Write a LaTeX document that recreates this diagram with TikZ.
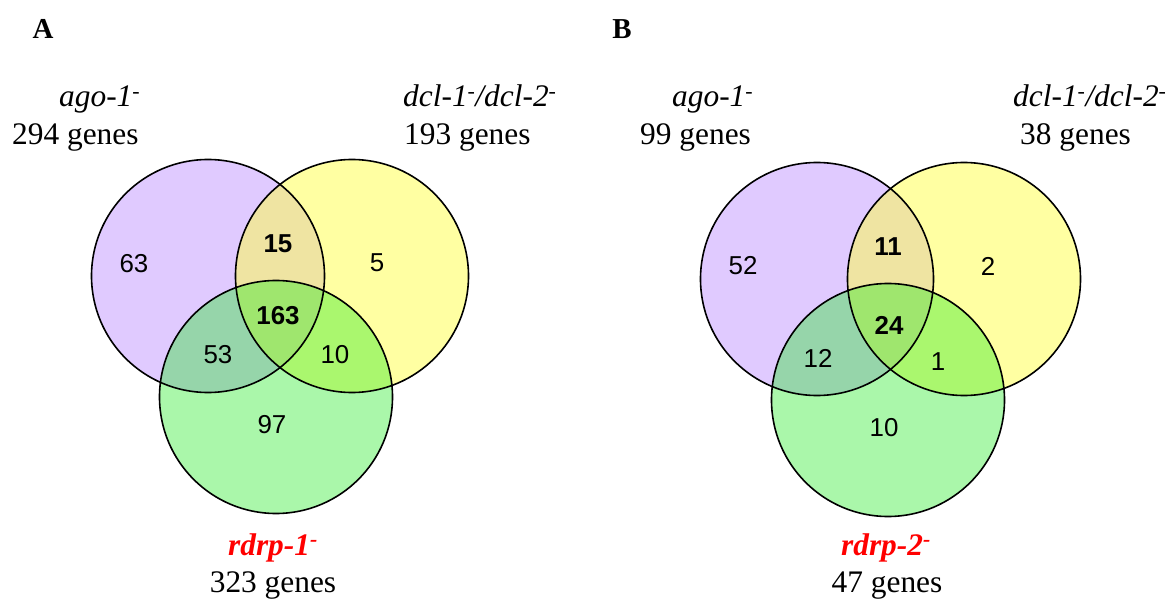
\documentclass[tikz,border=0pt]{standalone}
\usepackage{fontspec}
\setmainfont{Liberation Serif}
\newfontfamily\arialf{Liberation Sans}
\definecolor{vpurple}{RGB}{195,150,255}
\definecolor{vyellow}{RGB}{255,255,70}
\definecolor{vgreen}{RGB}{20,235,20}
\definecolor{vred}{RGB}{255,0,0}
\begin{document}
\begin{tikzpicture}[x=1bp,y=-1bp,
  vfill/.style={circle, inner sep=0pt, minimum size=233bp, fill opacity=0.5},
  gfill/.style={vfill, fill opacity=0.36},
  vline/.style={draw=black, line width=1.6bp},
  num/.style={inner sep=0pt, font=\arialf\fontsize{26}{30}\selectfont},
  bnum/.style={num, font=\arialf\bfseries\fontsize{26}{30}\selectfont},
  lab/.style={inner sep=0pt, font=\fontsize{31.5}{36}\selectfont},
  ilab/.style={lab, font=\itshape\fontsize{31.5}{36}\selectfont},
  rlab/.style={lab, text=vred, font=\bfseries\itshape\fontsize{31.5}{36}\selectfont},
  panel/.style={inner sep=0pt, font=\bfseries\fontsize{29}{34}\selectfont}]
\useasboundingbox (0,0) rectangle (1172,599);
\fill[white] (0,0) rectangle (1172,599);
% ---------- Panel A ----------
\node[panel] (pA) at (43,29) {A};
\node[vfill, fill=vpurple] (Apu) at (208,276) {};
\node[vfill, fill=vyellow] (Aye) at (352,276) {};
\node[gfill, fill=vgreen] (Agr) at (276,397) {};
\draw[vline] (Apu.center) circle[radius=116.5bp];
\draw[vline] (Aye.center) circle[radius=116.5bp];
\draw[vline] (Agr.center) circle[radius=116.5bp];
\node[num] (A63) at (134,264) {63};
\node[bnum] (A15) at (278,244) {15};
\node[num] (A5) at (377,263) {5};
\node[bnum] (A163) at (278,316) {163};
\node[num] (A53) at (218,355) {53};
\node[num] (A10) at (335,355) {10};
\node[num] (A97) at (272,425) {97};
\node[ilab, anchor=base west] (Aago) at (59,107) {ago-1\textsuperscript{-}};
\node[lab, anchor=base west] (Aagon) at (12,145) {294 genes};
\node[ilab, anchor=base west] (Adcl) at (403,107) {dcl-1\textsuperscript{-}/dcl-2\textsuperscript{-}};
\node[lab, anchor=base west] (Adcln) at (404,145) {193 genes};
\node[rlab, anchor=base] (Ardrp) at (273,555) {rdrp-1\textsuperscript{-}};
\node[lab, anchor=base] (Ardrpn) at (273,592) {323 genes};
% ---------- Panel B ----------
\node[panel] (pB) at (622,29) {B};
\node[vfill, fill=vpurple] (Bpu) at (817,279) {};
\node[vfill, fill=vyellow] (Bye) at (964,279) {};
\node[gfill, fill=vgreen] (Bgr) at (888,400) {};
\draw[vline] (Bpu.center) circle[radius=116.5bp];
\draw[vline] (Bye.center) circle[radius=116.5bp];
\draw[vline] (Bgr.center) circle[radius=116.5bp];
\node[num] (B52) at (743,266) {52};
\node[bnum] (B11) at (888,247) {11};
\node[num] (B2) at (988,266) {2};
\node[bnum] (B24) at (889,325) {24};
\node[num] (B12) at (818,358) {12};
\node[num] (B1) at (938,362) {1};
\node[num] (B10) at (884,428) {10};
\node[ilab, anchor=base west] (Bago) at (672,107) {ago-1\textsuperscript{-}};
\node[lab, anchor=base west] (Bagon) at (640,145) {99 genes};
\node[ilab, anchor=base west] (Bdcl) at (1013,107) {dcl-1\textsuperscript{-}/dcl-2\textsuperscript{-}};
\node[lab, anchor=base west] (Bdcln) at (1020,145) {38 genes};
\node[rlab, anchor=base] (Brdrp) at (886,555) {rdrp-2\textsuperscript{-}};
\node[lab, anchor=base] (Brdrpn) at (887,592) {47 genes};
\end{tikzpicture}
\end{document}
